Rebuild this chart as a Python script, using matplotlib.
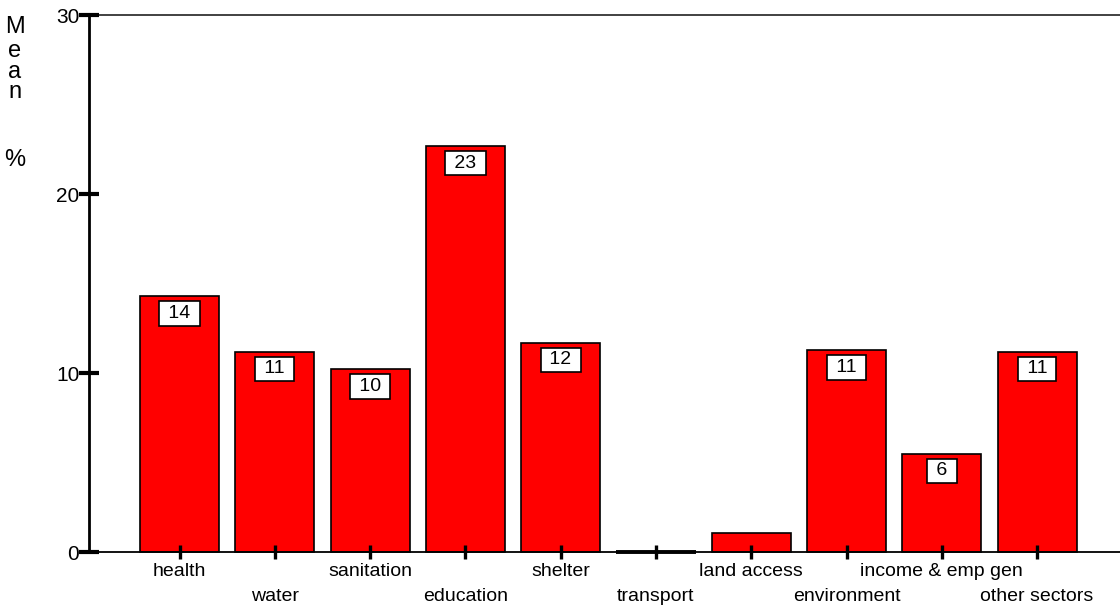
import matplotlib.pyplot as plt
import numpy as np

plt.rcParams['font.family'] = ['Liberation Sans', 'DejaVu Sans']

sectors = ["health", "water", "sanitation", "education", "shelter", "transport",
           "land access", "environment", "income & emp gen", "other sectors"]
means = [14.3, 11.2, 10.2, 22.7, 11.7, 0.0, 1.05, 11.3, 5.5, 11.2]
labels = ["14", "11", "10", "23", "12", "", "", "11", "6", "11"]

fig = plt.figure(figsize=(11.2, 6.1), dpi=100)
ax = fig.add_axes([0.0795, 0.095, 0.9205, 0.8804])
ax.set_axisbelow(False)

x = np.arange(len(sectors))
edge_w = [2.8 if v == 0 else 1.2 for v in means]
ax.bar(x, means, width=0.83, color="#ff0000", edgecolor="black",
       linewidth=edge_w, zorder=2, clip_on=False)

for xi, v, lab in zip(x, means, labels):
    if lab:
        ax.annotate(" " + lab + " ", (xi, v), xytext=(0, -12.5), textcoords="offset points",
                    ha="center", va="center", fontsize=14,
                    bbox=dict(boxstyle="square,pad=0.2", fc="white", ec="black", lw=1.2),
                    zorder=4)

ax.set_xlim(-0.95, 9.87)
ax.set_ylim(0, 30)
ax.set_yticks([0, 10, 20, 30])
ax.set_xticks(x)
ax.set_xticklabels(sectors, fontsize=14)
for i, t in enumerate(ax.xaxis.get_major_ticks()):
    t.set_pad(3 if i % 2 == 0 else 21)
ax.tick_params(axis="x", direction="inout", length=10, width=2.4, color="black")
ax.tick_params(axis="y", direction="inout", length=14, width=3, labelsize=15, pad=0)

ax.spines["right"].set_visible(False)
ax.spines["left"].set_linewidth(2)
ax.spines["bottom"].set_linewidth(1.3)
ax.spines["top"].set_linewidth(1.3)
ax.spines["top"].set_color("#333333")

for letter, ypix in zip(["M", "e", "a", "n", "%"], [27, 51, 72, 92, 160]):
    fig.text(15 / 1120, 1 - ypix / 610, letter, ha="center", va="center", fontsize=17)

fig.savefig("out.png", dpi=100)
